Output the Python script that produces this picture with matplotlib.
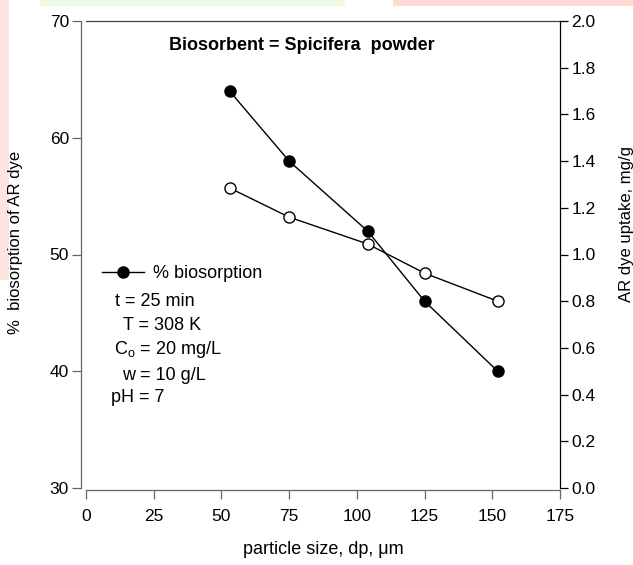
import matplotlib
matplotlib.use("Agg")
import matplotlib.pyplot as plt
from matplotlib.patches import Rectangle

plt.rcParams['font.family'] = ['Liberation Sans', 'DejaVu Sans']
plt.rcParams['mathtext.fontset'] = 'custom'
plt.rcParams['mathtext.rm'] = 'Liberation Sans'

# ---- data ----
particle_size = [53, 75, 104, 125, 152]
pct_biosorption = [64.0, 58.0, 52.0, 46.0, 40.0]
dye_uptake = [1.285, 1.16, 1.045, 0.92, 0.80]
left_ticks = [30, 40, 50, 60, 70]
right_ticks = [0.0, 0.2, 0.4, 0.6, 0.8, 1.0, 1.2, 1.4, 1.6, 1.8, 2.0]
x_ticks = [0, 25, 50, 75, 100, 125, 150, 175]
title_text = "Biosorbent = Spicifera  powder"
legend_label = "% biosorption"
conditions = ["t = 25 min", "T = 308 K", r"C$_\mathregular{o}$ = 20 mg/L", "w = 10 g/L", "pH = 7"]
cond_pos = [(115, 302), (123, 325), (114, 350), (122, 375), (111, 398)]

W, H = 633, 565
DPI = 100
fig = plt.figure(figsize=(W / DPI, H / DPI), dpi=DPI)
fig.patch.set_facecolor('white')

# faint background bands from the scanned page
fig.patches.append(Rectangle((40 / W, 1 - 6 / H), 305 / W, 6 / H, transform=fig.transFigure,
                             facecolor='#f0fbe6', edgecolor='none', zorder=0))
fig.patches.append(Rectangle((393 / W, 1 - 6 / H), 240 / W, 6 / H, transform=fig.transFigure,
                             facecolor='#fddcd6', edgecolor='none', zorder=0))
fig.patches.append(Rectangle((0, 1 - 280 / H), 9 / W, 280 / H, transform=fig.transFigure,
                             facecolor='#fde4e0', edgecolor='none', zorder=0))

x0, x1 = 86, 560
y0, y1 = 21, 488
ax = fig.add_axes([x0 / W, 1 - y1 / H, (x1 - x0) / W, (y1 - y0) / H])
ax.set_facecolor('none')
ax2 = ax.twinx()

FS = 13
TFS = 12.5
gray = '#666666'

ax.set_xlim(0, 175)
ax.set_ylim(30, 70)
ax2.set_ylim(0, 2.0)
ax.set_xticks(x_ticks)
ax.set_xticklabels([str(v) for v in x_ticks])
ax.set_yticks(left_ticks)
ax.set_yticklabels([str(v) for v in left_ticks])
ax2.set_yticks(right_ticks)
ax2.set_yticklabels([f"{v:.1f}" for v in right_ticks])

ax.spines['right'].set_visible(False)
for s in ['top', 'left', 'bottom']:
    ax2.spines[s].set_visible(False)
ax.spines['left'].set_position(('outward', 3.6))
ax.spines['bottom'].set_position(('outward', 1.5))
ax.spines['left'].set_color(gray)
ax.spines['bottom'].set_color(gray)
ax.spines['top'].set_color('#444444')
ax2.spines['right'].set_color('black')
for sp in list(ax.spines.values()) + list(ax2.spines.values()):
    sp.set_linewidth(0.9)

ax.tick_params(axis='y', direction='out', length=6.5, width=0.9, color=gray, labelsize=TFS, pad=2.2)
ax.tick_params(axis='x', direction='out', length=6.5, width=0.9, color=gray, labelsize=TFS, pad=7)
ax2.tick_params(axis='y', direction='out', length=6, width=0.9, color='black', labelsize=TFS, pad=2.2)

line1, = ax.plot(particle_size, pct_biosorption, '-o', color='black', lw=1.0,
                 markersize=8, markerfacecolor='black', markeredgecolor='black', zorder=3)
ax2.plot(particle_size, dye_uptake, '-o', color='black', lw=1.0,
         markersize=8, markerfacecolor='white', markeredgecolor='black', zorder=3)

fig.text(0.5 * (167 + 437) / W, 1 - 46 / H, title_text,
         ha='center', va='center', fontsize=FS, fontweight='bold')

fig.legend(handles=[line1], labels=[legend_label], loc='center left',
           bbox_to_anchor=(102 / W, 1 - 274 / H), frameon=False, fontsize=FS,
           handlelength=2.3, handletextpad=0.55, borderpad=0, borderaxespad=0)

for txt, (px, py) in zip(conditions, cond_pos):
    fig.text(px / W, 1 - py / H, txt, ha='left', va='center', fontsize=FS)

fig.text(323 / W, 1 - 550 / H, "particle size, dp, μm", ha='center', va='center', fontsize=FS)
fig.text(16 / W, 1 - 242 / H, "%  biosorption of AR dye", ha='center', va='center',
         rotation=90, fontsize=12)
fig.text(627 / W, 1 - 224 / H, "AR dye uptake, mg/g", ha='center', va='center',
         rotation=90, fontsize=12)

fig.savefig("out.png", dpi=DPI)
